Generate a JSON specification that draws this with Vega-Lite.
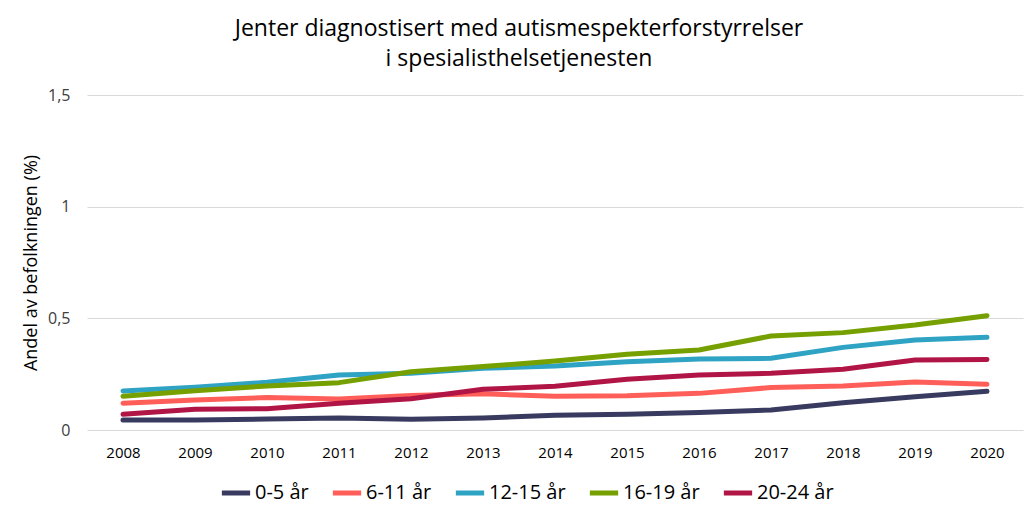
{
  "$schema": "https://vega.github.io/schema/vega-lite/v6.json",
  "width": 936,
  "height": 335,
  "autosize": "none",
  "padding": {"left": 87, "top": 95, "right": 9, "bottom": 89},
  "background": "white",
  "title": {
    "text": ["Jenter diagnostisert med autismespekterforstyrrelser", "i spesialisthelsetjenesten"],
    "anchor": "middle",
    "dx": -36,
    "offset": 16,
    "font": "Open Sans",
    "fontSize": 23,
    "fontWeight": "normal",
    "lineHeight": 30,
    "color": "#000000"
  },
  "data": {
    "values": [
      {"year": "2008", "group": "0-5 år", "value": 0.045},
      {"year": "2009", "group": "0-5 år", "value": 0.045},
      {"year": "2010", "group": "0-5 år", "value": 0.049},
      {"year": "2011", "group": "0-5 år", "value": 0.054},
      {"year": "2012", "group": "0-5 år", "value": 0.048},
      {"year": "2013", "group": "0-5 år", "value": 0.054},
      {"year": "2014", "group": "0-5 år", "value": 0.066},
      {"year": "2015", "group": "0-5 år", "value": 0.07},
      {"year": "2016", "group": "0-5 år", "value": 0.078},
      {"year": "2017", "group": "0-5 år", "value": 0.09},
      {"year": "2018", "group": "0-5 år", "value": 0.122},
      {"year": "2019", "group": "0-5 år", "value": 0.149},
      {"year": "2020", "group": "0-5 år", "value": 0.173},
      {"year": "2008", "group": "6-11 år", "value": 0.12},
      {"year": "2009", "group": "6-11 år", "value": 0.134},
      {"year": "2010", "group": "6-11 år", "value": 0.145},
      {"year": "2011", "group": "6-11 år", "value": 0.139},
      {"year": "2012", "group": "6-11 år", "value": 0.154},
      {"year": "2013", "group": "6-11 år", "value": 0.162},
      {"year": "2014", "group": "6-11 år", "value": 0.151},
      {"year": "2015", "group": "6-11 år", "value": 0.153},
      {"year": "2016", "group": "6-11 år", "value": 0.164},
      {"year": "2017", "group": "6-11 år", "value": 0.19},
      {"year": "2018", "group": "6-11 år", "value": 0.197},
      {"year": "2019", "group": "6-11 år", "value": 0.215},
      {"year": "2020", "group": "6-11 år", "value": 0.205},
      {"year": "2008", "group": "12-15 år", "value": 0.175},
      {"year": "2009", "group": "12-15 år", "value": 0.191},
      {"year": "2010", "group": "12-15 år", "value": 0.214},
      {"year": "2011", "group": "12-15 år", "value": 0.246},
      {"year": "2012", "group": "12-15 år", "value": 0.254},
      {"year": "2013", "group": "12-15 år", "value": 0.276},
      {"year": "2014", "group": "12-15 år", "value": 0.287},
      {"year": "2015", "group": "12-15 år", "value": 0.306},
      {"year": "2016", "group": "12-15 år", "value": 0.318},
      {"year": "2017", "group": "12-15 år", "value": 0.321},
      {"year": "2018", "group": "12-15 år", "value": 0.37},
      {"year": "2019", "group": "12-15 år", "value": 0.403},
      {"year": "2020", "group": "12-15 år", "value": 0.415},
      {"year": "2008", "group": "16-19 år", "value": 0.151},
      {"year": "2009", "group": "16-19 år", "value": 0.176},
      {"year": "2010", "group": "16-19 år", "value": 0.197},
      {"year": "2011", "group": "16-19 år", "value": 0.212},
      {"year": "2012", "group": "16-19 år", "value": 0.261},
      {"year": "2013", "group": "16-19 år", "value": 0.284},
      {"year": "2014", "group": "16-19 år", "value": 0.309},
      {"year": "2015", "group": "16-19 år", "value": 0.339},
      {"year": "2016", "group": "16-19 år", "value": 0.358},
      {"year": "2017", "group": "16-19 år", "value": 0.421},
      {"year": "2018", "group": "16-19 år", "value": 0.436},
      {"year": "2019", "group": "16-19 år", "value": 0.47},
      {"year": "2020", "group": "16-19 år", "value": 0.512},
      {"year": "2008", "group": "20-24 år", "value": 0.07},
      {"year": "2009", "group": "20-24 år", "value": 0.093},
      {"year": "2010", "group": "20-24 år", "value": 0.095},
      {"year": "2011", "group": "20-24 år", "value": 0.12},
      {"year": "2012", "group": "20-24 år", "value": 0.14},
      {"year": "2013", "group": "20-24 år", "value": 0.182},
      {"year": "2014", "group": "20-24 år", "value": 0.196},
      {"year": "2015", "group": "20-24 år", "value": 0.227},
      {"year": "2016", "group": "20-24 år", "value": 0.246},
      {"year": "2017", "group": "20-24 år", "value": 0.254},
      {"year": "2018", "group": "20-24 år", "value": 0.272},
      {"year": "2019", "group": "20-24 år", "value": 0.313},
      {"year": "2020", "group": "20-24 år", "value": 0.316}
    ]
  },
  "mark": {"type": "line", "strokeWidth": 5, "strokeCap": "round", "strokeJoin": "round"},
  "encoding": {
    "x": {
      "field": "year",
      "type": "ordinal",
      "scale": {"type": "point", "padding": 0.5},
      "axis": {
        "title": null,
        "labelAngle": 0,
        "domain": false,
        "ticks": false,
        "grid": false,
        "labelFont": "Open Sans",
        "labelFontSize": 15,
        "labelColor": "#000000",
        "labelPadding": 15
      }
    },
    "y": {
      "field": "value",
      "type": "quantitative",
      "scale": {"domain": [0, 1.5]},
      "axis": {
        "title": "Andel av befolkningen (%)",
        "titleFont": "Open Sans",
        "titleFontSize": 18,
        "titleFontWeight": "normal",
        "titleColor": "#000000",
        "titlePadding": 7,
        "values": [0, 0.5, 1, 1.5],
        "labelExpr": "replace(format(datum.value, '~g'), '.', ',')",
        "labelFont": "Open Sans",
        "labelFontSize": 16,
        "labelColor": "#404040",
        "labelPadding": 17,
        "domain": false,
        "ticks": false,
        "gridColor": "#d9d9d9",
        "gridWidth": 1
      }
    },
    "color": {
      "field": "group",
      "type": "nominal",
      "sort": ["0-5 år", "6-11 år", "12-15 år", "16-19 år", "20-24 år"],
      "scale": {
        "domain": ["0-5 år", "6-11 år", "12-15 år", "16-19 år", "20-24 år"],
        "range": ["#383B5F", "#FF5F58", "#2FA3C4", "#769F00", "#B01545"]
      },
      "legend": {
        "title": null,
        "orient": "none",
        "legendX": 132,
        "legendY": 381,
        "direction": "horizontal",
        "symbolType": "stroke",
        "symbolStrokeWidth": 5,
        "symbolSize": 800,
        "labelFont": "Open Sans",
        "labelFontSize": 20,
        "labelColor": "#000000",
        "labelOffset": 2,
        "columnPadding": 13
      }
    }
  },
  "config": {"view": {"stroke": null}}
}
